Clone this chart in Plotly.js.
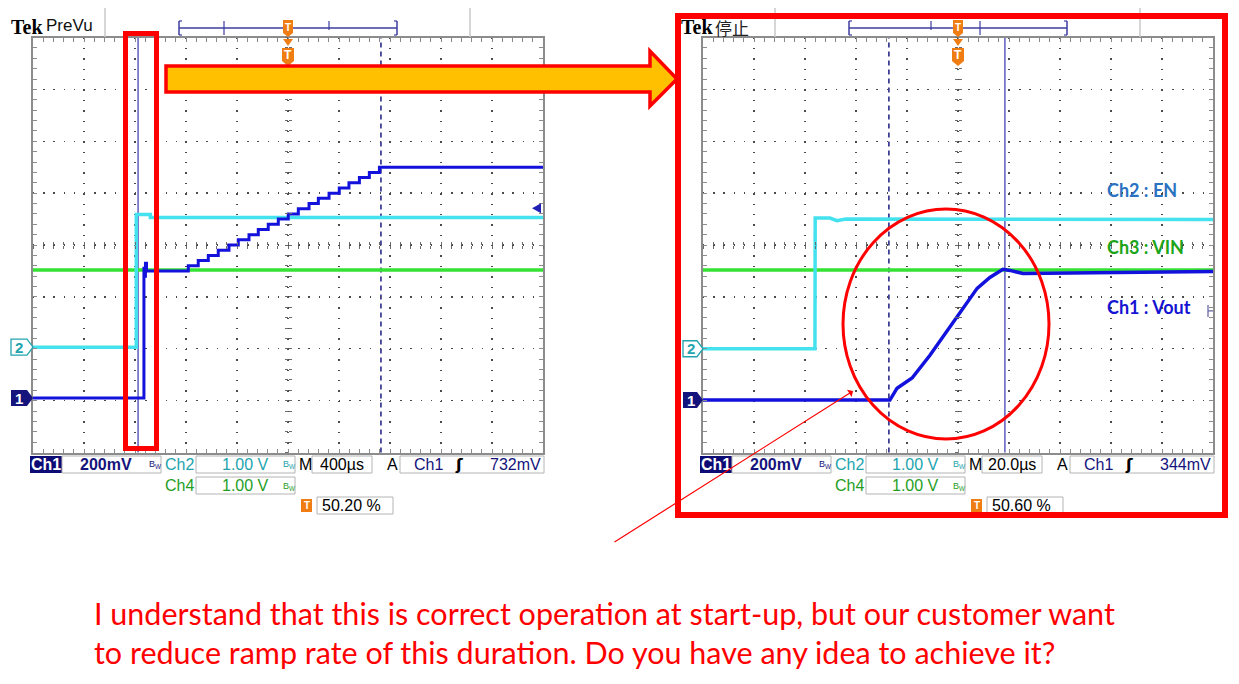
<!DOCTYPE html>
<html><head><meta charset="utf-8">
<script src="https://cdn.plot.ly/plotly-3.0.1.min.js"></script>
<style>html,body{margin:0;padding:0;background:#fff;overflow:hidden}#chart{width:1239px;height:684px}</style>
</head><body><div id="chart"></div>
<script>
// ================= DATA =================
// Left capture (PreVu, 400 us/div). time in us, values in volts
const leftTime_EN   = [-2000, -1192, -1190, -1150, -1080, 2000];
const leftVolt_EN   = [0.00, 0.00, 2.56, 2.56, 2.50, 2.50];
const leftTime_VIN  = [-2000, 2000];
const leftVolt_VIN  = [3.30, 3.30];
const leftTime_Vout = [-2000, -1137, -1130, -1124, -1118, -1110,
  -782, -704, -625, -547, -463, -390, -306, -233, -155, -76,
  2, 81, 165, 238, 322, 402, 478, 560, 638, 717, 2000];
const leftVolt_Vout = [0.00, 0.00, 0.50, 0.47, 0.52, 0.49,
  0.51, 0.53, 0.55, 0.57, 0.59, 0.61, 0.63, 0.65, 0.67, 0.69,
  0.71, 0.73, 0.75, 0.77, 0.79, 0.81, 0.83, 0.85, 0.87, 0.89, 0.89];
const leftCursors   = [-1176, 729];          // solid, dashed
const leftTrigLevel = 0.732;                 // V on Ch1

// Right capture (stopped, 20 us/div)
const rightTime_EN   = [-100, -56.1, -56.0, -50.2, -47.5, -44.0, 100];
const rightVolt_EN   = [0.00, 0.00, 2.52, 2.52, 2.47, 2.50, 2.49];
const rightTime_VIN  = [-100, 100];
const rightVolt_VIN  = [3.30, 3.30];
const rightTime_Vout = [-100, -26.7, -23.9, -20.8, -18.0, -11.0, 0.8, 7.5, 12.5, 17.6, 20.4, 25.5, 100];
const rightVolt_Vout = [0.000, 0.000, 0.046, 0.065, 0.085, 0.173, 0.335, 0.431, 0.473, 0.504, 0.500, 0.488, 0.496];
const rightCursors   = [-27.1, 18.4];        // dashed, solid
const rightTrigLevel = 0.344;

// Channel settings (V/div) and labels
const ch1Scale = 0.2, ch2Scale = 1.0, ch4Scale = 1.0;
const leftStatus  = {time: '400µs', trig: '732mV', pct: '50.20 %', mode: 'PreVu'};
const rightStatus = {time: '20.0µs', trig: '344mV', pct: '50.60 %', mode: '停止'};
const chLabels = ['Ch2 : EN', 'Ch3 : VIN', 'Ch1 : Vout'];
const noteLines = ['I understand that this is correct operation at start-up, but our customer want',
                   'to reduce ramp rate of this duration. Do you have any idea to achieve it?'];

// ================= LAYOUT HELPERS =================
const W = 1239, H = 684;
const PX = x => x / W;
const PY = y => 1 - y / H;
const GT = 37.5, GB = 452.5, GC = 245, DIV = (GB - GT) / 8;
const divToPx = d => GC - d * DIV;
// channel offsets (div)
const offL = {c1: -2.95, c2: -1.97, c4: -3.78};
const offR = {c1: -2.99, c2: -2.00, c4: -3.78};

const COL = {c1: '#1212dc', c2: '#44e2ee', c4: '#34e234', navy: '#14147c', teal: '#22a4ae', green: '#1f9e1f', orange: '#f07d14', grid: '#4a4a4a', border: '#8c8c8c'};

const shapes = [], ann = [];
function rect(x0, y0, x1, y1, line, fill, layer) {
  shapes.push({type: 'rect', xref: 'paper', yref: 'paper', x0: PX(x0), x1: PX(x1), y0: PY(y1), y1: PY(y0),
    line: line || {width: 0}, fillcolor: fill || 'rgba(0,0,0,0)', layer: layer || 'above'});
}
function poly(pts, line, fill, close) {
  const d = pts.map((p, i) => (i ? 'L' : 'M') + PX(p[0]).toFixed(6) + ',' + PY(p[1]).toFixed(6)).join(' ') + (close === false ? '' : ' Z');
  shapes.push({type: 'path', xref: 'paper', yref: 'paper', path: d, line: line || {width: 0}, fillcolor: fill || 'rgba(0,0,0,0)', layer: 'above'});
}
function seg(x0, y0, x1, y1, color, width, dash) {
  shapes.push({type: 'line', xref: 'paper', yref: 'paper', x0: PX(x0), x1: PX(x1), y0: PY(y0), y1: PY(y1),
    line: {color: color, width: width || 1, dash: dash || 'solid'}, layer: 'above'});
}
function txt(x, y, t, size, color, xanchor, family, bold) {
  ann.push({xref: 'paper', yref: 'paper', x: PX(x), y: PY(y), text: bold ? '<b>' + t + '</b>' : t, showarrow: false,
    xanchor: xanchor || 'center', yanchor: 'middle', borderpad: 0,
    font: {size: size, color: color, family: family || 'Liberation Sans, Arial, sans-serif'}});
}

function buildScope(dx, st, ticks, off, trig) {
  // header
  txt(10 + dx, 27, 'Tek', 20, '#000', 'left', 'Liberation Serif, serif', true);
  if (dx === 0) txt(45 + dx, 26, st.mode, 17, '#111', 'left');
  else txt(44 + dx, 27, st.mode, 17, '#222', 'left', 'Noto Sans CJK SC, sans-serif');
  seg(105 + dx, 8, 105 + dx, 37, '#c8c8c8', 1.5);
  seg(470 + dx, 8, 470 + dx, 37, '#c8c8c8', 1.5);
  // record bracket
  const bc = '#3c3ca0';
  seg(179 + dx, 28, 397 + dx, 28, bc, 1.5);
  seg(179 + dx, 21, 179 + dx, 35, bc, 1.5); seg(179 + dx, 21, 182 + dx, 21, bc, 1.2); seg(179 + dx, 35, 182 + dx, 35, bc, 1.2);
  seg(397 + dx, 21, 397 + dx, 35, bc, 1.5); seg(397 + dx, 21, 394 + dx, 21, bc, 1.2); seg(397 + dx, 35, 394 + dx, 35, bc, 1.2);
  seg(ticks[0] + dx, 21, ticks[0] + dx, 35, bc, 1.2, ticks[1] ? 'dash' : 'solid');
  seg(ticks[2] + dx, 21, ticks[2] + dx, 35, bc, 1.2, ticks[3] ? 'dash' : 'solid');
  // T markers
  const tx = 288 + dx;
  poly([[tx - 5, 20], [tx + 5, 20], [tx + 5, 33], [tx, 37], [tx - 5, 33]], {width: 0}, COL.orange);
  txt(tx, 27, 'T', 10, '#fff', 'center', 'Liberation Sans', true);
  poly([[tx - 5, 39], [tx + 5, 39], [tx, 46]], {width: 0}, COL.orange);
  poly([[tx - 6, 48], [tx + 6, 48], [tx + 6, 61], [tx, 66], [tx - 6, 61]], {width: 0}, COL.orange);
  txt(tx, 55, 'T', 12, '#fff', 'center', 'Liberation Sans', true);
  // ground markers
  const y2 = divToPx(off.c2), y1 = divToPx(off.c1);
  const mx0 = (dx ? 683 : 11), mx1 = 33 + dx;
  poly([[mx0, y2 - 8], [mx1 - 6, y2 - 8], [mx1, y2], [mx1 - 6, y2 + 8], [mx0, y2 + 8]], {color: COL.teal, width: 1.3}, '#fff');
  txt(mx0 + 8, y2, '2', 15, COL.teal, 'center', 'Liberation Sans', true);
  poly([[mx0, y1 - 8], [mx1 - 6, y1 - 8], [mx1, y1], [mx1 - 6, y1 + 8], [mx0, y1 + 8]], {width: 0}, COL.navy);
  txt(mx0 + 8, y1, '1', 15, '#fff', 'center', 'Liberation Sans', true);
  // trigger level marker
  const ty = divToPx(off.c1 + trig / ch1Scale);
  if (dx === 0) poly([[532, ty], [541, ty - 5], [541, ty + 5]], {width: 0}, '#2020b4');
  else { seg(1208, ty - 6, 1208, ty + 6, '#6a6aa8', 1.3); seg(1208, ty, 1213, ty, '#6a6aa8', 1.3); }
  // status bar
  const bx = '#b4b4b4';
  rect(30 + dx, 456, 62 + dx, 473, {width: 0}, '#0c0c74');
  txt(46 + dx, 464.5, 'Ch1', 16, '#fff', 'center', 'Liberation Sans', true);
  rect(62 + dx, 456, 161 + dx, 473, {color: bx, width: 1});
  txt(106 + dx, 464.5, '200mV', 16, COL.navy, 'center', 'Liberation Sans', true);
  txt(155 + dx, 464, 'B<sub>W</sub>', 9, COL.navy, 'center');
  txt(179 + dx, 464.5, 'Ch2', 16, COL.teal, 'center', 'Liberation Sans');
  rect(196 + dx, 456, 295 + dx, 473, {color: bx, width: 1});
  txt(245 + dx, 464.5, '1.00 V', 16, COL.teal, 'center');
  txt(289 + dx, 464, 'B<sub>W</sub>', 9, COL.teal, 'center');
  txt(305 + dx, 464.5, 'M', 16, '#000', 'center');
  rect(312 + dx, 456, 372 + dx, 473, {color: bx, width: 1});
  txt(342 + dx, 464.5, st.time, 16, '#000', 'center');
  txt(392 + dx, 464.5, 'A', 16, '#000', 'center');
  rect(400 + dx, 456, 544 + dx, 473, {color: bx, width: 1});
  txt(428 + dx, 464.5, 'Ch1', 16, COL.navy, 'center');
  txt(459 + dx, 464.5, 'ʃ', 16, '#000', 'center', 'DejaVu Sans', true);
  txt(542 + dx, 464.5, st.trig, 16, COL.navy, 'right');
  txt(179 + dx, 485.5, 'Ch4', 16, COL.green, 'center');
  rect(196 + dx, 477, 295 + dx, 494, {color: bx, width: 1});
  txt(245 + dx, 485.5, '1.00 V', 16, COL.green, 'center');
  txt(289 + dx, 486, 'B<sub>W</sub>', 9, COL.green, 'center');
  rect(301 + dx, 499, 312 + dx, 512, {width: 0}, COL.orange);
  txt(306.5 + dx, 505.5, 'T', 10, '#fff', 'center', 'Liberation Sans', true);
  rect(317 + dx, 497, 393 + dx, 514, {color: bx, width: 1});
  txt(321 + dx, 505.5, st.pct, 16, '#000', 'left');
}
buildScope(0, leftStatus, [224, false, 329, true], offL, leftTrigLevel);
buildScope(670, rightStatus, [261, true, 310, false], offR, rightTrigLevel);

// annotations specific to the slide
rect(125.5, 33.5, 156.5, 448.5, {color: '#ff0000', width: 5});           // zoom window
rect(678, 16, 1225, 515, {color: '#ff0000', width: 6});                    // right frame
poly([[166, 66], [650, 66], [650, 51], [677, 79], [650, 106], [650, 92], [166, 92]], {color: '#ff0000', width: 3.5}, '#ffc000');
shapes.push({type: 'circle', xref: 'paper', yref: 'paper', x0: PX(843), x1: PX(1049), y0: PY(439), y1: PY(209),
  line: {color: '#ff0000', width: 3}, layer: 'above'});
ann.push({xref: 'paper', yref: 'paper', x: PX(853), y: PY(391), ax: -240, ay: 152, text: '', showarrow: true,
  arrowcolor: '#ff0000', arrowwidth: 1.2, arrowhead: 1, arrowsize: 1.2, standoff: 0});
txt(1106, 190, chLabels[0], 18, '#2a72c2', 'left', 'Lato, sans-serif', true);
txt(1106, 247, chLabels[1], 18, '#1ca51c', 'left', 'Lato, sans-serif', true);
txt(1106, 307, chLabels[2], 18, '#1414d2', 'left', 'Lato, sans-serif', true);
txt(93, 613, noteLines[0], 30.5, '#ff0000', 'left', 'Lato, sans-serif');
txt(93, 652, noteLines[1], 30.5, '#ff0000', 'left', 'Lato, sans-serif');

// ================= AXES =================
const yDom = [PY(GB), PY(GT)];
const xDomL = [PX(33), PX(543)], xDomR = [PX(703), PX(1213)];
function mainX(dom, range, dt, yname) {
  return {domain: dom, range: range, dtick: dt, tick0: 0, anchor: yname, showgrid: true, gridcolor: COL.grid, gridwidth: 1.4,
    griddash: '1.4px,8.975px', zeroline: false, showline: true, linecolor: COL.border, linewidth: 2, mirror: 'allticks',
    ticks: 'inside', ticklen: 4, tickcolor: COL.border, showticklabels: false, fixedrange: true,
    minor: {dtick: dt / 5, ticks: 'inside', ticklen: 3, tickcolor: COL.border, showgrid: false}};
}
function mainY(dom, xname) {
  return {domain: dom, range: [-4, 4], dtick: 1, tick0: 0, anchor: xname, showgrid: true, gridcolor: COL.grid, gridwidth: 1.4,
    griddash: '1.4px,8.8px', zeroline: false, showline: true, linecolor: COL.border, linewidth: 2, mirror: 'allticks',
    ticks: 'inside', ticklen: 4, tickcolor: COL.border, showticklabels: false, fixedrange: true,
    minor: {dtick: 0.2, ticks: 'inside', ticklen: 3, tickcolor: COL.border, showgrid: false}};
}
function centerX(over, range, dt, side) {
  return {overlaying: over, anchor: 'free', position: (yDom[0] + yDom[1]) / 2, range: range, dtick: dt, tick0: 0,
    ticks: side, ticklen: 3, tickcolor: '#6a6a6a', showgrid: false, zeroline: false, showline: false, showticklabels: false, fixedrange: true};
}
function centerY(over, pos, side) {
  return {overlaying: over, anchor: 'free', position: pos, range: [-4, 4], dtick: 0.2, tick0: 0,
    ticks: side, ticklen: 3, tickcolor: '#6a6a6a', showgrid: false, zeroline: false, showline: false, showticklabels: false, fixedrange: true};
}
const layout = {
  width: W, height: H, margin: {l: 0, r: 0, t: 0, b: 0}, paper_bgcolor: '#ffffff', plot_bgcolor: 'rgba(0,0,0,0)',
  showlegend: false, hovermode: false,
  xaxis: mainX(xDomL, [-2000, 2000], 400, 'y'),
  yaxis: mainY(yDom, 'x'),
  xaxis2: mainX(xDomR, [-100, 100], 20, 'y2'),
  yaxis2: mainY(yDom, 'x2'),
  xaxis3: centerX('x', [-2000, 2000], 80, 'inside'),
  xaxis4: centerX('x', [-2000, 2000], 80, 'outside'),
  yaxis3: centerY('y', (xDomL[0] + xDomL[1]) / 2, 'inside'),
  yaxis4: centerY('y', (xDomL[0] + xDomL[1]) / 2, 'outside'),
  xaxis5: centerX('x2', [-100, 100], 4, 'inside'),
  xaxis6: centerX('x2', [-100, 100], 4, 'outside'),
  yaxis5: centerY('y2', (xDomR[0] + xDomR[1]) / 2, 'inside'),
  yaxis6: centerY('y2', (xDomR[0] + xDomR[1]) / 2, 'outside'),
  shapes: shapes, annotations: ann
};
// cursors
function cursor(t, xr, yr, dashed) {
  shapes.push({type: 'line', xref: xr, yref: yr + ' domain', x0: t, x1: t, y0: 0, y1: 1,
    line: {color: dashed ? '#1c1c80' : '#3434b0', width: dashed ? 1.5 : 1.2, dash: dashed ? '5px,4px' : 'solid'}, layer: 'below'});
}
cursor(leftCursors[0], 'x', 'y', false); cursor(leftCursors[1], 'x', 'y', true);
cursor(rightCursors[0], 'x2', 'y2', true); cursor(rightCursors[1], 'x2', 'y2', false);

// ================= TRACES =================
const toDiv = (arr, off, sc) => arr.map(v => off + v / sc);
function tr(x, y, color, xa, ya, w, shape) {
  return {type: 'scatter', mode: 'lines', x: x, y: y, xaxis: xa, yaxis: ya, hoverinfo: 'skip',
    line: {color: color, width: w, shape: shape || 'linear'}};
}
const data = [
  tr(leftTime_VIN, toDiv(leftVolt_VIN, offL.c4, ch4Scale), COL.c4, 'x', 'y', 3.5),
  tr(leftTime_EN, toDiv(leftVolt_EN, offL.c2, ch2Scale), COL.c2, 'x', 'y', 3.5, 'hv'),
  tr(leftTime_Vout, toDiv(leftVolt_Vout, offL.c1, ch1Scale), COL.c1, 'x', 'y', 3, 'hv'),
  tr(rightTime_VIN, toDiv(rightVolt_VIN, offR.c4, ch4Scale), COL.c4, 'x2', 'y2', 3.5),
  tr(rightTime_EN, toDiv(rightVolt_EN, offR.c2, ch2Scale), COL.c2, 'x2', 'y2', 3.5),
  tr(rightTime_Vout, toDiv(rightVolt_Vout, offR.c1, ch1Scale), COL.c1, 'x2', 'y2', 3.5),
  // empty traces to bind centre graticule axes
  {type: 'scatter', x: [], y: [], xaxis: 'x3', yaxis: 'y'}, {type: 'scatter', x: [], y: [], xaxis: 'x4', yaxis: 'y'},
  {type: 'scatter', x: [], y: [], xaxis: 'x', yaxis: 'y3'}, {type: 'scatter', x: [], y: [], xaxis: 'x', yaxis: 'y4'},
  {type: 'scatter', x: [], y: [], xaxis: 'x5', yaxis: 'y2'}, {type: 'scatter', x: [], y: [], xaxis: 'x6', yaxis: 'y2'},
  {type: 'scatter', x: [], y: [], xaxis: 'x2', yaxis: 'y5'}, {type: 'scatter', x: [], y: [], xaxis: 'x2', yaxis: 'y6'}
];
Plotly.newPlot('chart', data, layout, {staticPlot: true, displayModeBar: false});
</script></body></html>
